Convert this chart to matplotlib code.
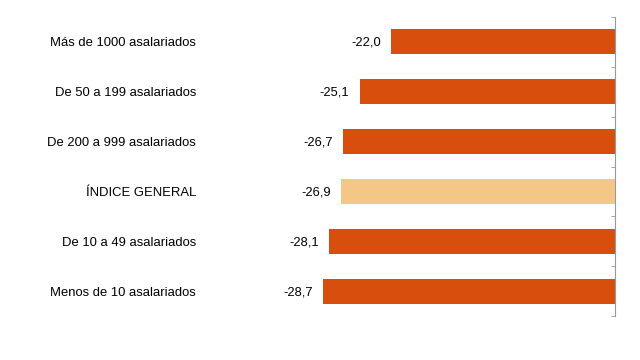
import matplotlib
matplotlib.use("Agg")
import matplotlib.pyplot as plt
import numpy as np

plt.rcParams['font.family'] = ['Liberation Sans', 'DejaVu Sans']

categories = ['Más de 1000 asalariados', 'De 50 a 199 asalariados',
              'De 200 a 999 asalariados', 'ÍNDICE GENERAL',
              'De 10 a 49 asalariados', 'Menos de 10 asalariados']
values = [-22.0, -25.1, -26.7, -26.9, -28.1, -28.7]
highlight = 'ÍNDICE GENERAL'

dark = '#D84E0C'
light = '#F5C787'
colors = [light if c == highlight else dark for c in categories]

fig = plt.figure(figsize=(6.4, 3.6), dpi=100)
ax = fig.add_axes([208 / 640, 44 / 360, (615 - 208) / 640, (316 - 17) / 360])

y = np.arange(len(categories))
ax.barh(y, values, height=0.5, color=colors, zorder=2)

for yi, v in zip(y, values):
    ax.text(v - 1.0, yi + 0.02, f'{v:.1f}'.replace('.', ','), ha='right', va='center',
            fontsize=9.3, color='black')

ax.set_xlim(-40, 0)
ax.set_ylim(len(categories) - 0.5, -0.5)

ax.set_yticks(y)
ax.set_yticklabels(categories, fontsize=9.4)
ax.set_yticks(np.arange(len(categories) + 1) - 0.5, minor=True)
ax.tick_params(axis='y', which='major', length=0, pad=8.6)
ax.tick_params(axis='y', which='minor', left=False, right=True,
               direction='in', length=3, color='#999999')
ax.set_xticks([])

for s in ['top', 'bottom', 'left']:
    ax.spines[s].set_visible(False)
ax.spines['right'].set_color('#999999')
ax.spines['right'].set_linewidth(0.8)

fig.savefig('out.png', dpi=100)
